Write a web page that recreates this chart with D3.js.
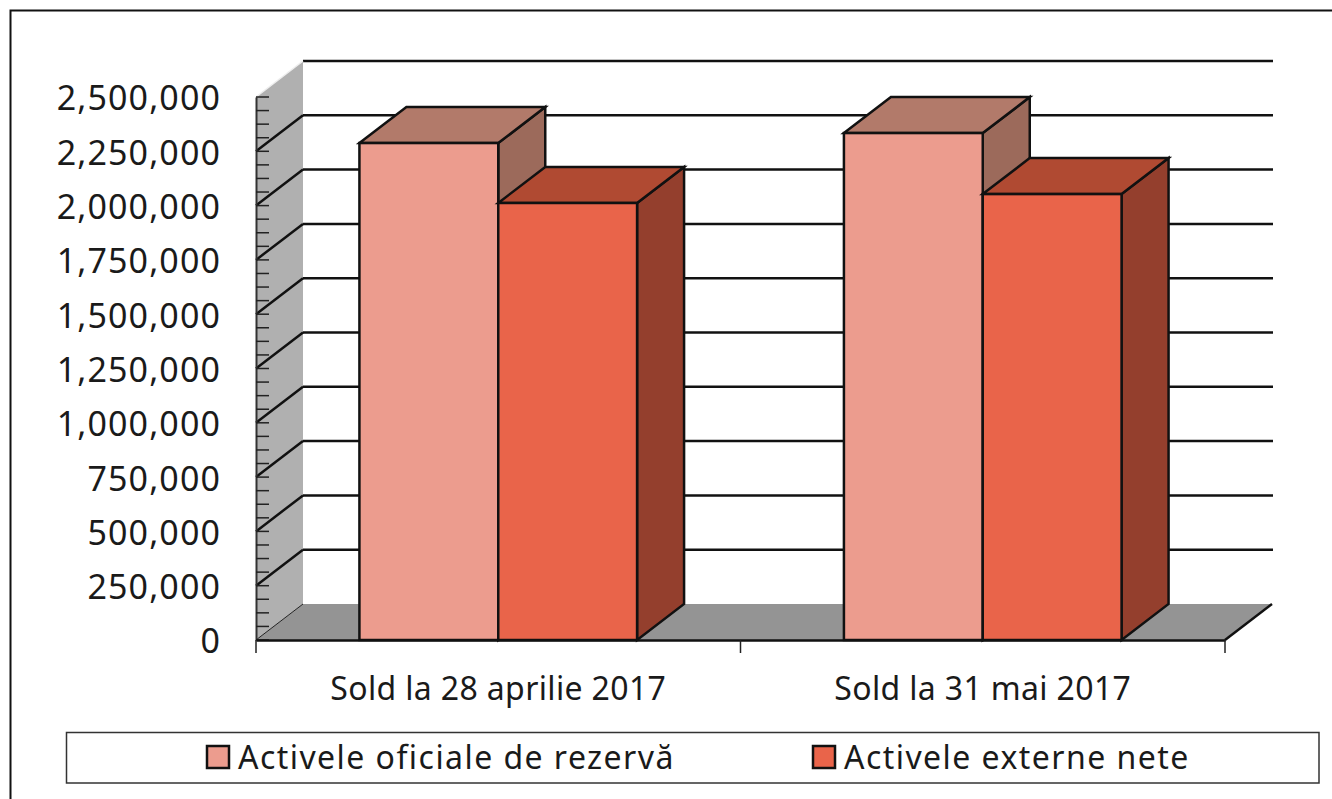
<!DOCTYPE html>
<html>
<head>
<meta charset="utf-8">
<script src="https://cdn.jsdelivr.net/npm/d3@7"></script>
<style>
  html, body { margin: 0; padding: 0; background: #fff; }
  svg { display: block; }
  text { font-family: "Noto Sans", sans-serif; fill: #1a1a1a; }
</style>
</head>
<body>
<div id="chart"></div>
<script>
var categories = ["Sold la 28 aprilie 2017", "Sold la 31 mai 2017"];
var seriesNames = ["Activele oficiale de rezervă", "Activele externe nete"];
var activeRezerva = [2288000, 2334000];
var activeExterne = [2012000, 2053000];
var yTickValues = [0, 250000, 500000, 750000, 1000000, 1250000, 1500000, 1750000, 2000000, 2250000, 2500000];
var yMinorValues = [62500, 125000, 187500, 312500, 375000, 437500, 562500, 625000, 687500, 812500, 875000, 937500,
  1062500, 1125000, 1187500, 1312500, 1375000, 1437500, 1562500, 1625000, 1687500, 1812500, 1875000, 1937500,
  2062500, 2125000, 2187500, 2312500, 2375000, 2437500];

var width = 1332, height = 799;
var left = 256, right = 1225, top0 = 97, bottom = 640;
var dx = 47, dy = -36; // depth of the fake 3d box

var colors = [
  {front: "#ec9c8e", top: "#b27a6a", side: "#9c6a5b"},
  {front: "#e9644a", top: "#b04a32", side: "#943f2d"}
];

var svg = d3.select("#chart").append("svg").attr("width", width).attr("height", height);

// page frame, only top and left are visible in the picture
svg.append("path").attr("d", "M10.5,799V10.5H1332").attr("fill", "none").attr("stroke", "#111").attr("stroke-width", 2);

var y = d3.scaleLinear().domain([0, 2500000]).range([bottom, top0]);
var x = d3.scaleBand().domain(categories).range([left, right]);
var xInner = d3.scaleBand().domain(seriesNames).range([0, x.bandwidth()]).paddingInner(0).paddingOuter(0.745);

function pts(a) { return a.map(function(p) { return p.join(","); }).join(" "); }

// side wall and floor
svg.append("polygon").attr("fill", "#b0b0b0")
  .attr("points", pts([[left, y(2500000)], [left + dx, y(2500000) + dy], [left + dx, bottom + dy], [left, bottom]]));
svg.append("polygon").attr("fill", "#949494")
  .attr("points", pts([[left, bottom], [left + dx, bottom + dy], [right + dx, bottom + dy], [right, bottom]]));
svg.append("line").attr("x1", left).attr("y1", bottom).attr("x2", left + dx).attr("y2", bottom + dy)
  .attr("stroke", "#222").attr("stroke-width", 1);
svg.append("line").attr("x1", right).attr("y1", bottom).attr("x2", right + dx).attr("y2", bottom + dy)
  .attr("stroke", "#111").attr("stroke-width", 2.5);

// grid lines: back wall + diagonal on the side wall
var grid = yTickValues.filter(function(d) { return d > 0; });
svg.append("g").selectAll("line.back").data(grid).enter().append("line")
  .attr("class", "back")
  .attr("x1", left + dx).attr("x2", right + dx + 1)
  .attr("y1", function(d) { return y(d) + dy; }).attr("y2", function(d) { return y(d) + dy; })
  .attr("stroke", "#111").attr("stroke-width", 2.5);
svg.append("g").selectAll("line.diag").data(grid.filter(function(d) { return d < 2500000; })).enter().append("line")
  .attr("class", "diag")
  .attr("x1", left).attr("x2", left + dx)
  .attr("y1", function(d) { return y(d); }).attr("y2", function(d) { return y(d) + dy; })
  .attr("stroke", "#111").attr("stroke-width", 2.5);
svg.append("line").attr("x1", left).attr("y1", y(2500000)).attr("x2", left + dx).attr("y2", y(2500000) + dy)
  .attr("stroke", "#eee").attr("stroke-width", 1.5);

// y axis, ticks point inwards
var yAxis = d3.axisLeft(y).tickValues(yTickValues).tickSize(0).tickPadding(35).tickFormat(d3.format(","));
var yG = svg.append("g").attr("transform", "translate(" + left + ",0)").call(yAxis);
yG.select(".domain").attr("stroke", "#333").attr("stroke-width", 2);
yG.selectAll("text").attr("dy", "0.38em").style("font-size", "34px").style("letter-spacing", "1.1px").style("font-family", '"Noto Sans"');
svg.append("g").selectAll("line").data(yTickValues.concat(yMinorValues)).enter().append("line")
  .attr("x1", left).attr("x2", left + 13)
  .attr("y1", function(d) { return y(d); }).attr("y2", function(d) { return y(d); })
  .attr("stroke", "#222").attr("stroke-width", 1.5);

// bars, series by series so the second covers the side of the first
var series = [activeRezerva, activeExterne];
series.forEach(function(vals, i) {
  var g = svg.append("g");
  var name = seriesNames[i];
  var c = colors[i];
  categories.forEach(function(cat, j) {
    var x0 = x(cat) + xInner(name), x1 = x0 + xInner.bandwidth();
    var yt = y(vals[j]);
    g.append("polygon").attr("fill", c.side).attr("stroke", "#111").attr("stroke-width", 2.5)
      .attr("points", pts([[x1, yt], [x1 + dx, yt + dy], [x1 + dx, bottom + dy], [x1, bottom]]));
    g.append("polygon").attr("fill", c.top).attr("stroke", "#111").attr("stroke-width", 2.5)
      .attr("points", pts([[x0, yt], [x0 + dx, yt + dy], [x1 + dx, yt + dy], [x1, yt]]));
    g.append("rect").attr("x", x0).attr("y", yt).attr("width", x1 - x0).attr("height", bottom - yt)
      .attr("fill", c.front).attr("stroke", "#111").attr("stroke-width", 2.5);
  });
});

// x axis
var xAxis = d3.axisBottom(x).tickSize(0).tickPadding(37);
var xG = svg.append("g").attr("transform", "translate(0," + bottom + ")").call(xAxis);
xG.select(".domain").attr("stroke", "#111").attr("stroke-width", 2.5);
xG.selectAll("text").style("font-size", "32px").style("letter-spacing", "0.35px").style("font-family", '"Noto Sans"');
svg.append("g").selectAll("line").data(categories.concat(["end"])).enter().append("line")
  .attr("x1", function(d) { return d === "end" ? right : x(d); })
  .attr("x2", function(d) { return d === "end" ? right : x(d); })
  .attr("y1", bottom).attr("y2", bottom + 13)
  .attr("stroke", "#222").attr("stroke-width", 1.5);

// legend
svg.append("rect").attr("x", 66.5).attr("y", 732.5).attr("width", 1252.5).attr("height", 50.5)
  .attr("fill", "#fff").attr("stroke", "#333").attr("stroke-width", 1.5);
var legendX = d3.scaleOrdinal().domain(seriesNames).range([207, 813]);
var lg = svg.append("g").selectAll("g").data(seriesNames).enter().append("g")
  .attr("transform", function(d) { return "translate(" + legendX(d) + ",746)"; });
lg.append("rect").attr("width", 22).attr("height", 22)
  .attr("fill", function(d, i) { return colors[i].front; }).attr("stroke", "#111").attr("stroke-width", 2.5);
lg.append("text").attr("x", 31).attr("y", 23).style("font-size", "32px").style("letter-spacing", "1.45px")
  .text(function(d) { return d; });
</script>
</body>
</html>
